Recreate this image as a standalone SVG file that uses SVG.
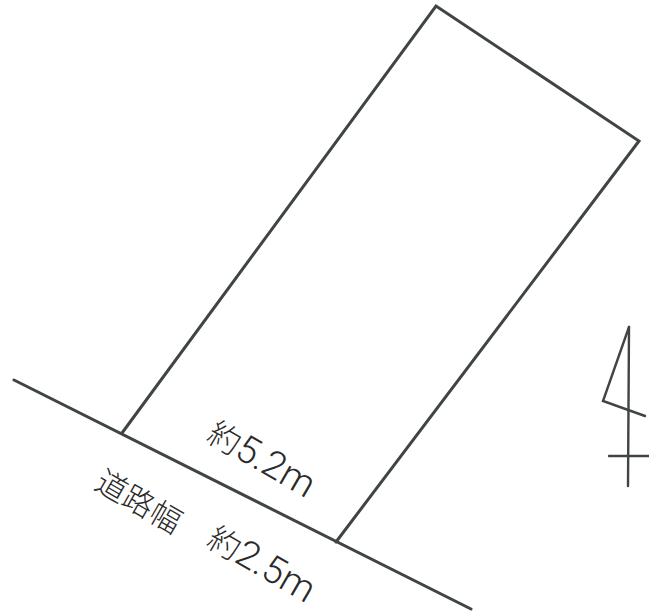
<svg xmlns="http://www.w3.org/2000/svg" width="649" height="611" viewBox="0 0 649 611">
<style>
.l{fill:none;stroke:#3f4540;stroke-width:3;stroke-linejoin:miter;stroke-linecap:round}
.n{fill:none;stroke:#3f4540;stroke-width:2.4;stroke-linecap:round}
.t{font-family:Roboto,"Noto Sans CJK JP",sans-serif;font-weight:300;fill:#2a2a2a}
.k{font-size:32px}
.d{font-size:38px}
</style>
<rect width="649" height="611" fill="#fff"/>
<g id="road"><line class="l" x1="14" y1="380" x2="471" y2="609"/></g>
<g id="lot"><polyline class="l" points="122,433 436,6 639,141 336,542"/></g>
<g id="north">
<polyline class="n" points="645,416 603,401 629,327"/>
<line class="n" x1="629" y1="327" x2="628" y2="486"/>
<line class="n" x1="609" y1="456" x2="649" y2="456"/>
</g>
<g id="labels">
<text class="t" transform="translate(205,440) rotate(30)"><tspan class="k">約</tspan><tspan class="d">5.2m</tspan></text>
<text class="t" font-size="31" transform="translate(93,488) rotate(30)">道路幅</text>
<text class="t" transform="translate(205,545) rotate(30)"><tspan class="k">約</tspan><tspan class="d">2.5m</tspan></text>
</g>
</svg>
